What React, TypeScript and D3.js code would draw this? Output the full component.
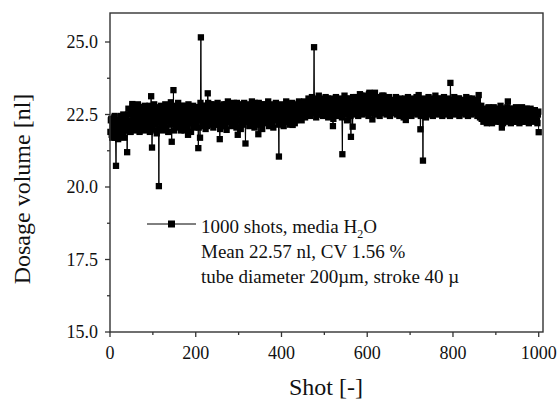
import * as d3 from 'd3';

// dosage volume per shot [nl]
// even shots (2, 4, ..., 1000)
const evenStart = [
  22.3, 21.8, 22.1, 21.9, 22.4, 21.7, 20.73, 22.2, 21.9, 22.3, 22.0, 21.75, 22.45, 22.1, 21.85, 22.2, 22.4, 21.95, 22.25, 21.2,
];
const evenEarly = [
  22.5, 22.1, 22.3, 21.9, 22.6, 22.86, 22.2, 22.4, 22.0, 22.55, 22.3, 22.7, 22.15, 22.45, 21.95, 22.6, 22.35, 22.1, 22.75, 22.4,
  22.2, 22.65, 22.0, 22.5, 22.3, 22.8, 22.1, 23.13, 21.36, 22.45, 22.6, 22.2, 22.75, 21.95, 22.4, 22.55, 20.03, 22.3, 22.7, 22.15,
  22.5, 22.35, 22.0, 22.6, 22.25, 22.8, 22.45, 21.9, 22.55, 22.3, 22.92, 21.56, 22.4, 23.34, 22.6, 22.2, 22.5, 22.05, 22.7, 22.35,
  22.15, 22.6, 22.4, 22.8, 22.25, 22.5, 21.95, 22.65, 22.3, 22.55, 21.8, 22.45, 22.7, 22.2, 22.6, 22.35, 22.8, 22.1, 22.5, 22.4,
];
const evenMiddle = [
  22.6, 22.3, 21.34, 22.5, 21.7, 25.16, 22.4, 22.75, 22.2, 22.55, 22.35, 22.8, 22.1, 23.23, 22.5, 22.65, 22.25, 22.45, 22.85, 22.3,
  22.55, 22.15, 22.7, 22.4, 22.6, 22.2, 22.8, 21.65, 22.5, 22.35, 22.75, 22.1, 22.6, 22.45, 22.85, 21.97, 22.3, 22.55, 22.7, 22.25,
  22.5, 22.8, 22.35, 22.6, 22.15, 22.7, 22.45, 22.9, 21.8, 22.55, 22.3, 22.65, 22.2, 22.75, 22.4, 22.85, 22.5, 21.5, 22.6, 22.35,
  22.7, 22.25, 22.55, 22.8, 22.4, 22.15, 22.65, 22.5, 22.9, 22.3, 22.6, 22.45, 21.82, 22.75, 22.35, 22.55, 22.2, 22.85, 22.5, 22.4,
  22.65, 22.3, 22.8, 22.5, 22.25, 22.7, 22.45, 22.6, 22.15, 22.85, 22.4, 22.55, 22.3, 22.75, 22.5, 22.35, 21.05, 22.6, 22.45, 22.8,
  22.3, 22.55, 22.7, 22.25, 22.6, 22.45, 22.85, 22.35, 22.5, 22.7, 22.2, 22.6, 22.14, 22.75, 22.4, 22.55, 22.3, 22.8, 22.5, 22.65,
  22.4, 22.7, 22.55, 22.85, 22.45, 22.6, 22.75, 22.5, 22.9, 22.65,
];
const evenHigh = [
  22.85, 22.6, 23.0, 22.75, 22.55, 22.9, 22.7, 24.82, 22.95, 22.6, 22.8, 23.05, 22.65, 22.9, 22.5, 22.75, 23.0, 22.7, 22.85, 22.55,
  22.95, 22.7, 22.8, 23.05, 22.6, 22.9, 22.45, 22.75, 22.85, 22.1, 22.7, 23.0, 22.6, 22.9, 22.75, 22.5, 22.95, 22.8, 22.65, 23.05,
  21.13, 22.85, 22.6, 22.95, 22.75, 23.05, 22.55, 22.9, 22.7, 22.85, 21.73, 22.65, 22.08, 22.8, 22.95, 22.6, 23.1, 22.75, 22.85, 22.55,
  22.95, 22.7, 23.15, 22.8, 22.6, 23.0, 22.85, 22.65, 23.1, 22.9, 22.7, 23.2, 22.8, 22.95, 22.6, 22.33, 23.05, 22.85, 23.25, 22.7,
  22.95, 22.6, 23.1, 22.8, 22.9, 22.55, 23.0, 22.75, 23.15, 22.85, 22.65, 23.05, 22.8, 22.95, 22.6, 22.9, 22.75, 23.0, 22.55, 22.85,
  22.7, 22.95, 22.6, 23.05, 22.8, 22.9, 22.65, 22.85, 23.0, 22.55, 22.75, 22.9, 22.7, 23.05, 22.31, 22.85, 22.6, 22.95, 22.8, 22.7,
  23.0, 22.65, 22.85, 22.55, 22.95, 22.75, 22.9, 22.6, 23.05, 23.17, 22.8, 21.99, 22.7, 22.6, 20.91, 22.85, 22.55, 22.95, 22.7, 22.85,
  22.6, 22.9, 22.75, 23.05, 22.65, 22.85, 22.55, 23.0, 22.8, 22.7, 22.95, 22.6, 22.85, 22.75, 23.05, 22.65, 22.9, 22.55, 22.8, 23.0,
  22.7, 22.85, 22.6, 22.95, 22.75, 22.9, 23.59, 22.8, 22.65, 23.0, 22.85, 22.55, 22.95, 22.7, 22.9, 22.6, 23.05, 22.8, 22.7, 22.95,
  22.6, 22.85, 22.75, 23.0, 22.65, 22.9, 22.55, 22.8, 23.05, 22.7, 22.85, 22.6, 22.95, 22.75, 22.65, 22.9, 22.8, 22.55, 23.0, 23.17,
  22.75, 22.6, 22.8, 22.5, 22.65,
];
const evenEnd = [
  22.4, 22.6, 22.3, 22.55, 22.45, 22.7, 22.25, 22.5, 22.65, 22.35, 22.6, 22.4, 22.7, 22.3, 22.55,
  22.45, 22.65, 22.35, 22.6, 22.25, 22.5, 22.05, 22.7, 22.4, 22.55, 22.3, 22.65, 22.45, 22.95, 22.5, 22.35, 22.6, 22.4, 22.7, 22.25,
  22.55, 22.45, 22.65, 22.3, 22.5, 22.7, 22.35, 22.6, 22.4, 22.55, 22.25, 22.65, 22.45, 22.5, 22.35, 22.7, 22.4, 22.6, 22.3, 22.55,
  22.45, 22.65, 22.35, 22.5, 22.6, 22.4, 22.55, 22.3, 22.5, 21.89,
];

// odd shots (1, 3, ..., 999)
const oddStart = [
  21.9, 22.35, 21.7, 22.15, 21.85, 22.45, 21.75, 22.0, 22.3, 21.65, 22.2, 21.9, 22.4, 21.8, 22.1, 22.5, 21.7, 22.3, 21.95, 22.2,
];
const oddEarly = [
  22.0, 22.7, 22.25, 21.9, 22.55, 22.15, 22.8, 22.35, 21.95, 22.6, 22.1, 22.45, 22.85, 22.2, 21.9, 22.65, 22.3, 22.75, 22.05, 22.5,
  22.8, 21.95, 22.4, 22.65, 22.1, 22.55, 21.9, 22.75, 22.3, 22.0, 22.6, 22.85, 22.15, 22.45, 21.85, 22.7, 22.25, 22.55, 22.0, 22.8,
  22.35, 21.95, 22.6, 22.2, 22.85, 22.05, 22.5, 22.7, 21.9, 22.4, 22.65, 22.15, 22.8, 22.3, 21.95, 22.55, 22.75, 22.1, 22.45, 22.9,
  22.2, 22.6, 21.95, 22.7, 22.35, 22.05, 22.8, 22.45, 22.15, 22.65, 22.0, 22.85, 22.3, 22.55, 21.9, 22.7, 22.25, 22.6, 22.05, 22.75,
];
const oddMiddle = [
  22.2, 22.75, 22.4, 22.05, 22.65, 22.9, 22.3, 22.55, 22.1, 22.8, 22.45, 22.0, 22.7, 22.35, 22.9, 22.15, 22.6, 22.85, 22.25, 22.5,
  22.05, 22.8, 22.4, 22.65, 22.15, 22.9, 22.3, 22.55, 22.0, 22.75, 22.45, 22.2, 22.85, 22.6, 22.1, 22.7, 22.35, 22.95, 22.25, 22.5,
  22.8, 22.1, 22.6, 22.4, 22.9, 22.2, 22.7, 22.05, 22.55, 22.85, 22.3, 22.65, 22.0, 22.75, 22.45, 22.15, 22.9, 22.35, 22.6, 22.25,
  22.85, 22.5, 22.1, 22.7, 22.4, 22.95, 22.2, 22.6, 22.05, 22.8, 22.35, 22.55, 22.15, 22.9, 22.45, 22.25, 22.75, 22.0, 22.65, 22.4,
  22.85, 22.2, 22.6, 22.35, 22.95, 22.1, 22.7, 22.5, 22.25, 22.8, 22.05, 22.65, 22.4, 22.9, 22.3, 22.55, 22.15, 22.75, 22.45, 22.2,
  22.85, 22.6, 22.1, 22.7, 22.35, 22.95, 22.25, 22.55, 22.8, 22.15, 22.65, 22.4, 22.9, 22.3, 22.6, 22.2, 22.85, 22.5, 22.7, 22.35,
  22.95, 22.45, 22.6, 22.3, 22.8, 22.55, 22.95, 22.4, 22.7, 22.85,
];
const oddHigh = [
  22.6, 23.05, 22.75, 22.45, 22.95, 23.1, 22.55, 22.85, 22.65, 23.0, 22.4, 22.9, 22.7, 23.15, 22.5, 22.8, 22.6, 23.05, 22.45, 22.9,
  22.7, 23.1, 22.55, 22.85, 22.4, 22.95, 22.65, 23.05, 22.5, 22.8, 22.35, 22.9, 22.6, 23.1, 22.45, 22.75, 22.95, 22.5, 23.0, 22.7,
  22.4, 22.95, 22.65, 23.15, 22.5, 22.85, 22.3, 22.9, 22.55, 23.05, 22.45, 22.8, 22.6, 23.1, 22.7, 22.5, 23.0, 22.65, 22.9, 22.45,
  22.8, 23.2, 22.6, 22.95, 22.5, 23.1, 22.75, 22.55, 23.15, 22.65, 22.9, 22.45, 23.25, 22.7, 22.55, 23.05, 22.85, 22.6, 23.2, 22.95,
  22.5, 23.1, 22.7, 22.9, 22.45, 23.0, 22.65, 23.15, 22.55, 22.85, 22.7, 23.05, 22.5, 22.95, 22.6, 23.1, 22.45, 22.85, 22.7, 23.0,
  22.55, 22.9, 22.65, 23.1, 22.5, 22.8, 22.95, 22.45, 23.05, 22.7, 22.55, 22.9, 22.4, 23.0, 22.65, 22.85, 22.5, 23.1, 22.75, 22.6,
  22.95, 22.45, 23.05, 22.7, 22.55, 22.9, 22.65, 23.1, 22.5, 22.8, 22.6, 23.0, 22.45, 22.85, 22.7, 23.05, 22.55, 22.95, 22.4, 22.8,
  22.65, 23.1, 22.5, 22.9, 22.7, 23.0, 22.45, 22.85, 22.6, 23.15, 22.55, 22.9, 22.75, 22.5, 23.05, 22.65, 22.95, 22.45, 22.8, 23.1,
  22.6, 22.9, 22.5, 23.05, 22.7, 22.85, 22.45, 23.0, 22.65, 22.9, 22.55, 23.1, 22.75, 22.5, 22.95, 22.6, 23.05, 22.45, 22.85, 22.7,
  22.55, 23.0, 22.65, 22.9, 22.5, 23.1, 22.7, 22.45, 22.95, 22.6, 22.85, 22.5, 23.05, 22.7, 22.55, 22.9, 22.65, 23.0, 22.45, 22.8,
  22.6, 22.4, 22.75, 22.35, 22.55,
];
const oddEnd = [
  22.25, 22.7, 22.4, 22.6, 22.2, 22.55, 22.75, 22.3, 22.5, 22.65, 22.2, 22.45, 22.75, 22.35, 22.6,
  22.25, 22.55, 22.7, 22.3, 22.5, 22.8, 22.35, 22.6, 22.2, 22.45, 22.7, 22.3, 22.55, 22.75, 22.25, 22.5, 22.65, 22.2, 22.6, 22.4,
  22.7, 22.3, 22.55, 22.75, 22.25, 22.45, 22.65, 22.2, 22.6, 22.35, 22.75, 22.3, 22.5, 22.7, 22.25, 22.55, 22.4, 22.65, 22.2, 22.5,
  22.7, 22.3, 22.6, 22.45, 22.25, 22.65, 22.35, 22.55, 22.2, 22.6,
];

const xTicks = [0, 200, 400, 600, 800, 1000];
const xMinor = [100, 300, 500, 700, 900];
const yTicks = [15, 17.5, 20, 22.5, 25];
const yMinor = [16.25, 18.75, 21.25, 23.75];
const legendLines = ['Mean 22.57 nl, CV 1.56 %', 'tube diameter 200µm, stroke 40 µ'];

const width = 560;
const height = 401;
const margin = { top: 13, right: 17, bottom: 69, left: 110 };
const font = 'Liberation Serif, Times New Roman, serif';

export default function App() {
  const even = [...evenStart, ...evenEarly, ...evenMiddle, ...evenHigh, ...evenEnd];
  const odd = [...oddStart, ...oddEarly, ...oddMiddle, ...oddHigh, ...oddEnd];
  const data = [
    ...even.map((v, i) => ({ shot: (i + 1) * 2, v })),
    ...odd.map((v, i) => ({ shot: i * 2 + 1, v })),
  ].sort((a, b) => a.shot - b.shot);

  const x = d3.scaleLinear().domain([0, 1010]).range([margin.left, width - margin.right]);
  const y = d3.scaleLinear().domain([15, 26]).range([height - margin.bottom, margin.top]);

  const line = d3.line<{ shot: number; v: number }>()
    .x(d => x(d.shot))
    .y(d => y(d.v));

  const [x0, x1] = x.range();
  const [y0, y1] = y.range();
  const axisColor = '#333';
  const sq = 6.3;

  return (
    <svg
      width={width}
      height={height}
      style={{ position: 'absolute', left: 0, top: 0, background: '#fff', fontFamily: font }}
    >
      <rect x={0} y={0} width={width} height={height} fill="#fff" />

      {/* data */}
      <g>
        <path d={line(data) ?? ''} fill="none" stroke="#000" strokeWidth={1} />
        {data.map((d, i) => (
          <rect key={i} x={x(d.shot) - sq / 2} y={y(d.v) - sq / 2} width={sq} height={sq} fill="#000" />
        ))}
      </g>

      {/* frame */}
      <rect x={x0} y={y1} width={x1 - x0} height={y0 - y1} fill="none" stroke={axisColor} strokeWidth={1.4} />

      {/* x axis */}
      <g stroke={axisColor} strokeWidth={1.3}>
        {xTicks.map(t => (
          <line key={t} x1={x(t)} x2={x(t)} y1={y0} y2={y0 + 5} />
        ))}
        {xMinor.map(t => (
          <line key={t} x1={x(t)} x2={x(t)} y1={y0} y2={y0 + 3} />
        ))}
      </g>
      {xTicks.map(t => (
        <text key={t} x={x(t)} y={y0 + 27} textAnchor="middle" fontSize={18} fill="#111">
          {t}
        </text>
      ))}

      {/* y axis */}
      <g stroke={axisColor} strokeWidth={1.3}>
        {yTicks.map(t => (
          <line key={t} x1={x0 - 5} x2={x0} y1={y(t)} y2={y(t)} />
        ))}
        {yMinor.map(t => (
          <line key={t} x1={x0 - 3} x2={x0} y1={y(t)} y2={y(t)} />
        ))}
      </g>
      {yTicks.map(t => (
        <text key={t} x={x0 - 12} y={y(t) + 6} textAnchor="end" fontSize={18} fill="#111">
          {d3.format('.1f')(t)}
        </text>
      ))}

      {/* axis titles */}
      <text x={326} y={395} textAnchor="middle" fontSize={24} fill="#111">
        Shot [-]
      </text>
      <text transform="translate(30,189) rotate(-90)" textAnchor="middle" fontSize={24} fill="#111">
        Dosage volume [nl]
      </text>

      {/* legend */}
      <g>
        <line x1={147} x2={196} y1={224} y2={224} stroke="#000" strokeWidth={1} />
        <rect x={171.5 - 3.5} y={224 - 3.5} width={7} height={7} fill="#000" />
        <text x={201} y={233} fontSize={19} fill="#111">
          1000 shots, media H<tspan fontSize={12} dy={5}>2</tspan>
          <tspan dy={-5}>O</tspan>
        </text>
        {legendLines.map((s, i) => (
          <text key={s} x={201} y={258 + i * 24.5} fontSize={19} fill="#111">
            {s}
          </text>
        ))}
      </g>
    </svg>
  );
}
